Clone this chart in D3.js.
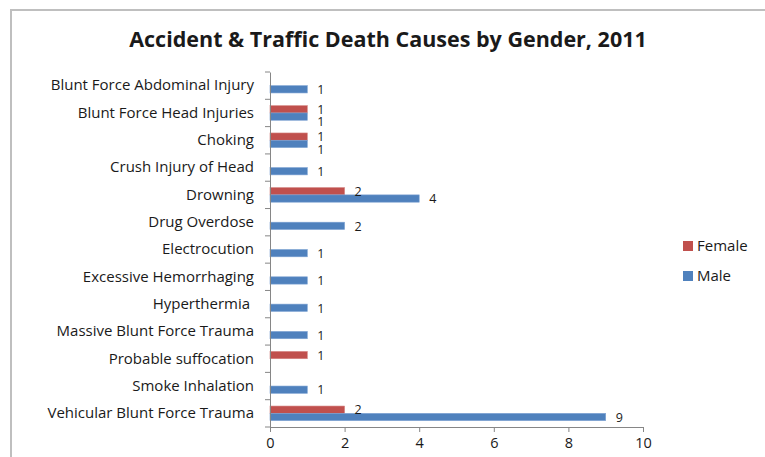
<!DOCTYPE html>
<html>
<head>
<meta charset="utf-8">
<script src="https://cdn.jsdelivr.net/npm/d3@7"></script>
<style>
  body { margin: 0; background: #fff; }
  svg text { font-family: "Open Sans", "Liberation Sans", sans-serif; fill: #1a1a1a; }
</style>
</head>
<body>
<svg id="chart" width="765" height="457"></svg>
<script>
var categories = ["Blunt Force Abdominal Injury", "Blunt Force Head Injuries", "Choking",
  "Crush Injury of Head", "Drowning", "Drug Overdose", "Electrocution",
  "Excessive Hemorrhaging", "Hyperthermia ", "Massive Blunt Force Trauma",
  "Probable suffocation", "Smoke Inhalation", "Vehicular Blunt Force Trauma"];
var female = [null, 1, 1, null, 2, null, null, null, null, null, 1, null, 2];
var male   = [1, 1, 1, 1, 4, 2, 1, 1, 1, 1, null, 1, 9];
var series = ["Female", "Male"];
var colors = { Female: "#C0504D", Male: "#4F81BD" };
var xTicks = [0, 2, 4, 6, 8, 10];

var svg = d3.select("#chart");

// outer chart frame (runs off right and bottom)
svg.append("path")
    .attr("d", "M11,470 L11,10 L780,10")
    .attr("fill", "none")
    .attr("stroke", "#bfbfbf")
    .attr("stroke-width", 2);

svg.append("text")
    .attr("x", 388)
    .attr("y", 47)
    .attr("text-anchor", "middle")
    .style("font-size", "21.5px")
    .style("font-weight", "bold")
    .text("Accident & Traffic Death Causes by Gender, 2011");

var x = d3.scaleLinear().domain([0, 10]).range([270, 643]);
var y0 = d3.scaleBand().domain(categories).range([72, 427])
    .paddingInner(0.465).paddingOuter(0.2325);
var y1 = d3.scaleBand().domain(series).range([0, y0.bandwidth()]);

var rows = categories.map(function(c, i){
    return { cat: c, Female: female[i], Male: male[i] };
});

var groups = svg.append("g").selectAll("g")
    .data(rows)
    .enter().append("g")
    .attr("transform", function(d){ return "translate(0," + y0(d.cat) + ")"; });

groups.each(function(d){
    var g = d3.select(this);
    series.forEach(function(s){
        if (d[s] == null) return;
        g.append("rect")
            .attr("x", x(0))
            .attr("y", y1(s))
            .attr("width", x(d[s]) - x(0))
            .attr("height", y1.bandwidth())
            .attr("fill", colors[s])
            .attr("stroke", s == "Male" ? "#7ea3d3" : "#d58583")
            .attr("stroke-width", 0.6);
    });
});

// value labels drawn on top of all bars
groups.each(function(d){
    var g = d3.select(this);
    series.forEach(function(s){
        if (d[s] == null) return;
        // push the male label down when both bars end at the same spot
        var nudge = 0;
        if (d.Female != null && d.Male != null && d.Female == d.Male && s == "Male") nudge = 5;
        g.append("text")
            .attr("x", x(d[s]) + 10)
            .attr("y", y1(s) + y1.bandwidth() / 2 + nudge)
            .attr("dy", "0.38em")
            .style("font-size", "12.5px")
            .text(d[s]);
    });
});

// axes
var yAxis = d3.axisLeft(y0).tickSize(0).tickPadding(16);
var yg = svg.append("g").attr("transform", "translate(" + x(0) + ",0)").call(yAxis);
yg.select(".domain").attr("stroke", "#868686");
yg.selectAll("text").style("font-size", "15px").style("white-space", "pre");
// category boundary ticks
yg.selectAll("line.bound")
    .data(d3.range(categories.length + 1))
    .enter().append("line")
    .attr("class", "bound")
    .attr("x1", -5).attr("x2", 0)
    .attr("y1", function(i){ return y0.range()[0] + i * y0.step(); })
    .attr("y2", function(i){ return y0.range()[0] + i * y0.step(); })
    .attr("stroke", "#868686");

var xAxis = d3.axisBottom(x).tickValues(xTicks).tickSize(5).tickSizeOuter(0).tickPadding(6);
var xg = svg.append("g").attr("transform", "translate(0,427)").call(xAxis);
xg.select(".domain").attr("stroke", "#868686");
xg.selectAll(".tick line").attr("stroke", "#868686");
xg.selectAll("text").style("font-size", "14.5px");

// legend
var legend = svg.append("g").selectAll("g")
    .data(series)
    .enter().append("g")
    .attr("transform", function(d, i){ return "translate(683," + (241 + i * 30) + ")"; });
legend.append("rect")
    .attr("width", 10).attr("height", 10)
    .attr("fill", function(d){ return colors[d]; });
legend.append("text")
    .attr("x", 14).attr("y", 5).attr("dy", "0.36em")
    .style("font-size", "15px")
    .text(function(d){ return d; });
</script>
</body>
</html>
